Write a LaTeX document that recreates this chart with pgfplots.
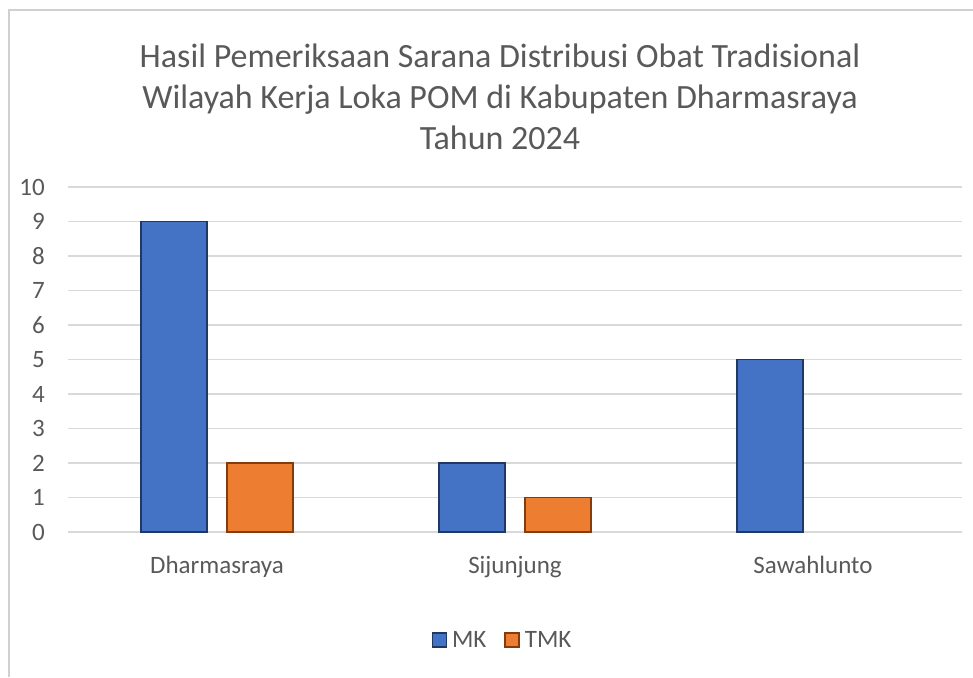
\documentclass[border=0pt]{standalone}
\usepackage{pgfplots}
\pgfplotsset{compat=1.18}
\usepackage{fontspec}
\setmainfont{Carlito}
\definecolor{mkblue}{HTML}{4472C4}
\definecolor{mkblueedge}{HTML}{1F3864}
\definecolor{tmkorange}{HTML}{ED7D31}
\definecolor{tmkedge}{HTML}{843C0C}
\definecolor{txtgray}{HTML}{595959}
\definecolor{gridgray}{HTML}{D9D9D9}
\definecolor{framegray}{HTML}{D0D0D0}
\begin{document}
\begin{tikzpicture}[x=1pt,y=1pt]
\path[use as bounding box] (0,0) rectangle (973,677);
\draw[framegray, line width=1.5pt] (9,0) -- (9,667) -- (973,667);
\node[align=center, text=txtgray, font=\fontsize{34}{41}\selectfont] at (500,580)
  {Hasil Pemeriksaan Sarana Distribusi Obat Tradisional\\Wilayah Kerja Loka POM di Kabupaten Dharmasraya\\Tahun 2024};
\begin{axis}[
  at={(68pt,145pt)}, anchor=south west,
  scale only axis, width=894pt, height=345pt,
  xmin=-0.5, xmax=2.5, ymin=0, ymax=10,
  ybar=20pt, bar width=66pt,
  axis line style={draw=none},
  xtick={0,1,2}, xticklabels={Dharmasraya,Sijunjung,Sawahlunto},
  ytick={0,1,...,10},
  major tick length=0pt,
  ymajorgrids, grid style={gridgray, line width=1.2pt},
  tick label style={text=txtgray, font=\fontsize{25}{30}\selectfont},
  /pgf/number format/assume math mode=true,
  yticklabel style={anchor=east, inner sep=0pt, xshift=-23pt},
  xticklabel style={anchor=base, inner sep=0pt, yshift=-41pt},
  legend style={at={(0.486,-0.313)}, anchor=center, draw=none, fill=none,
    legend columns=2, font=\fontsize{25}{30}\selectfont, text=txtgray,
    /tikz/every even column/.append style={column sep=16pt}},
  legend image code/.code={\draw[#1, line width=1.5pt] (0pt,-7pt) rectangle (14pt,7pt); \path (17pt,0pt);},
]
\addplot[fill=mkblue, draw=mkblueedge, line width=1.5pt] coordinates {(0,9) (1,2) (2,5)};
\addplot[fill=tmkorange, draw=tmkedge, line width=1.5pt] coordinates {(0,2) (1,1)};
\legend{MK,TMK}
\end{axis}
\end{tikzpicture}
\end{document}
